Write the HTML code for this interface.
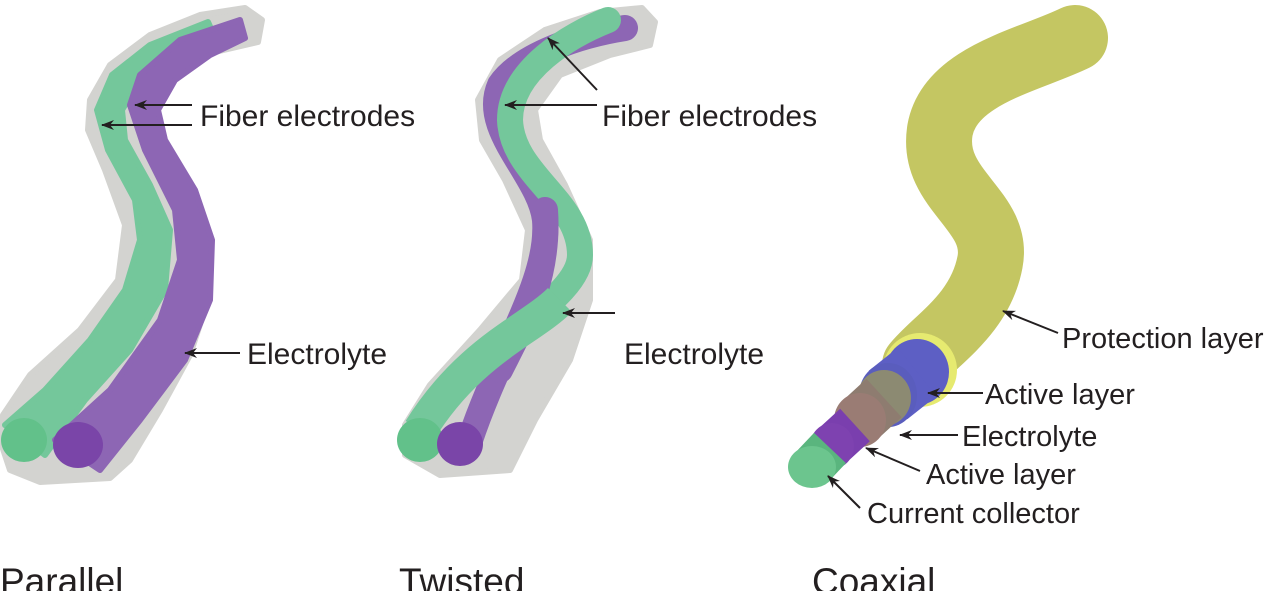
<!DOCTYPE html>
<html><head><meta charset="utf-8"><style>
html,body{margin:0;padding:0;background:#fff;}
svg{display:block}
text{font-family:"Liberation Sans",sans-serif;fill:#231f20;}
polygon{stroke-linejoin:round;stroke-width:6;}
</style></head><body>
<svg width="1269" height="591" viewBox="0 0 1269 591" xmlns="http://www.w3.org/2000/svg">
<defs>
<marker id="a" markerWidth="13" markerHeight="10" refX="12" refY="5" orient="auto" markerUnits="userSpaceOnUse">
<path d="M0,0 L13,5 L0,10 L4,5 Z" fill="#231f20"/></marker>
</defs>
<!-- Parallel -->
<polygon points="245,8 200,15 150,35 110,65 90,100 88,130 105,170 125,225 118,280 80,330 30,375 3,415 0,440 10,470 40,482 110,478 130,460 160,410 190,355 208,300 210,240 185,180 155,130 152,100 175,70 215,52 258,42 262,20" fill="#d3d3d0" stroke="#d3d3d0"/>
<polygon points="208,22 150,45 112,75 97,110 108,150 135,200 140,240 125,290 90,340 45,390 5,425 45,455 85,400 130,350 165,290 170,230 150,185 125,140 122,110 140,80 175,55 215,38" fill="#74c79b" stroke="#74c79b"/>
<polygon points="240,20 180,40 140,75 130,105 145,150 175,210 180,260 160,320 110,390 55,440 100,470 140,420 185,360 210,300 212,240 195,190 165,140 158,110 175,80 210,55 245,38" fill="#8d66b4" stroke="#8d66b4"/>
<ellipse cx="24" cy="440" rx="23" ry="22" fill="#62c18a"/>
<ellipse cx="78" cy="445" rx="25" ry="23" fill="#7a45a8"/>
<!-- Twisted -->
<polygon points="642,8 600,12 545,30 500,60 478,100 482,140 505,180 528,230 522,280 480,330 430,385 405,425 405,455 440,475 510,470 535,420 570,360 590,300 590,240 565,185 540,140 535,110 560,75 610,55 650,45 655,22" fill="#d3d3d0" stroke="#d3d3d0"/>
<g fill="none" stroke-linecap="round">
<path d="M625,28 C580,35 520,55 500,85 C480,130 540,175 545,220 C550,280 500,350 470,440" stroke="#8d66b4" stroke-width="26"/>
<path d="M608,20 C570,35 510,70 510,120 C512,175 580,200 580,255 C580,300 480,340 420,430" stroke="#74c79b" stroke-width="26"/>
<path d="M545,210 C550,280 520,330 500,370" stroke="#8d66b4" stroke-width="26"/>
<path d="M560,300 C530,330 470,350 420,430" stroke="#74c79b" stroke-width="34" stroke-linecap="butt"/>
</g>
<ellipse cx="420" cy="440" rx="23" ry="22" fill="#62c18a"/>
<ellipse cx="460" cy="444" rx="23" ry="22" fill="#7a45a8"/>
<!-- Coaxial -->
<path d="M1075,38 C1030,60 950,75 940,130 C930,190 1000,210 990,262 C980,315 935,340 915,365" fill="none" stroke="#c4c662" stroke-width="66" stroke-linecap="round"/>
<ellipse cx="920" cy="370" rx="37" ry="37" fill="#e6ea70"/>
<ellipse cx="917" cy="372" rx="32" ry="33" fill="#5d5fc4"/>
<line x1="917" y1="372" x2="888" y2="395" stroke="#5d5fc4" stroke-width="62"/>
<ellipse cx="888" cy="395" rx="29" ry="32" fill="#5a5dbd"/>
<ellipse cx="884" cy="398" rx="27" ry="28" fill="#8c8a72"/>
<line x1="884" y1="398" x2="860" y2="420" stroke="#8e7c70" stroke-width="52"/>
<ellipse cx="860" cy="420" rx="26" ry="27" fill="#9a7c74"/>
<line x1="855" y1="425" x2="832" y2="446" stroke="#7a3fae" stroke-width="44"/>
<ellipse cx="832" cy="446" rx="22" ry="23" fill="#7e42b0"/>
<line x1="830" y1="448" x2="812" y2="467" stroke="#5ab57e" stroke-width="44"/>
<ellipse cx="812" cy="467" rx="24" ry="21" fill="#6cc58e"/>
<!-- arrows -->
<g stroke="#231f20" stroke-width="2" fill="none">
<line x1="192" y1="105" x2="135" y2="105" marker-end="url(#a)"/>
<line x1="192" y1="125" x2="102" y2="125" marker-end="url(#a)"/>
<line x1="240" y1="353" x2="185" y2="353" marker-end="url(#a)"/>
<line x1="597" y1="90" x2="548" y2="38" marker-end="url(#a)"/>
<line x1="597" y1="105" x2="505" y2="105" marker-end="url(#a)"/>
<line x1="615" y1="313" x2="563" y2="313" marker-end="url(#a)"/>
<line x1="1058" y1="333" x2="1003" y2="311" marker-end="url(#a)"/>
<line x1="983" y1="393" x2="928" y2="393" marker-end="url(#a)"/>
<line x1="958" y1="435" x2="900" y2="435" marker-end="url(#a)"/>
<line x1="920" y1="471" x2="866" y2="448" marker-end="url(#a)"/>
<line x1="860" y1="508" x2="828" y2="476" marker-end="url(#a)"/>
</g>
<g font-size="30">
<text x="200" y="126">Fiber electrodes</text>
<text x="247" y="364">Electrolyte</text>
<text x="602" y="126">Fiber electrodes</text>
<text x="624" y="364">Electrolyte</text>
</g>
<g font-size="29">
<text x="1062" y="348">Protection layer</text>
<text x="985" y="404">Active layer</text>
<text x="962" y="446">Electrolyte</text>
<text x="926" y="484">Active layer</text>
<text x="867" y="523">Current collector</text>
</g>
<g font-size="37">
<text x="0" y="594">Parallel</text>
<text x="399" y="594">Twisted</text>
<text x="812" y="594">Coaxial</text>
</g>
</svg>
</body></html>
